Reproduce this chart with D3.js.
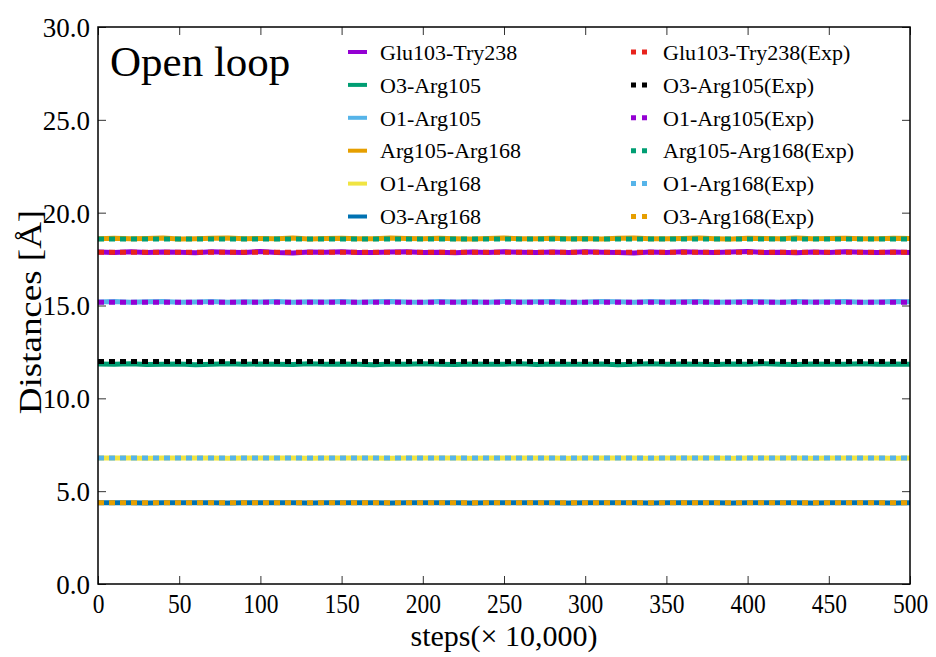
<!DOCTYPE html>
<html>
<head>
<meta charset="utf-8">
<script src="https://cdn.jsdelivr.net/npm/d3@7"></script>
<style>
  html, body { margin: 0; padding: 0; background: #fff; }
  svg { display: block; }
  svg text { font-family: "Liberation Serif", "Times New Roman", serif !important; fill: #000; }
</style>
</head>
<body>
<svg id="chart" width="936" height="657"></svg>
<script>
// ---------- DATA ----------
const steps = [0,10,20,30,40,50,60,70,80,90,100,110,120,130,140,150,160,170,180,190,200,210,220,230,240,250,260,270,280,290,300,310,320,330,340,350,360,370,380,390,400,410,420,430,440,450,460,470,480,490,500];

const seriesNames = ["Glu103-Try238","O3-Arg105","O1-Arg105","Arg105-Arg168","O1-Arg168","O3-Arg168"];
const seriesColors = ["#9400D3","#009E73","#56B4E9","#E69F00","#F0E442","#0072B2"];

const glu103Try238 = [17.88,17.86,17.90,17.85,17.88,17.87,17.84,17.89,17.87,17.86,17.91,17.85,17.83,17.88,17.87,17.89,17.86,17.85,17.88,17.90,17.86,17.87,17.84,17.88,17.86,17.89,17.87,17.85,17.88,17.86,17.90,17.87,17.85,17.83,17.88,17.86,17.89,17.87,17.85,17.88,17.91,17.86,17.87,17.84,17.88,17.86,17.89,17.87,17.85,17.88,17.86];
const o3Arg105 = [11.85,11.83,11.86,11.82,11.84,11.85,11.81,11.84,11.86,11.83,11.85,11.84,11.82,11.86,11.83,11.85,11.84,11.81,11.85,11.83,11.86,11.84,11.82,11.85,11.83,11.84,11.86,11.82,11.85,11.84,11.83,11.85,11.81,11.84,11.86,11.83,11.85,11.84,11.82,11.85,11.83,11.86,11.84,11.82,11.85,11.83,11.84,11.86,11.83,11.85,11.84];
const o1Arg105 = [15.19,15.21,15.18,15.20,15.22,15.18,15.19,15.21,15.17,15.20,15.19,15.22,15.18,15.20,15.19,15.21,15.18,15.20,15.22,15.19,15.18,15.21,15.19,15.20,15.18,15.22,15.19,15.20,15.21,15.18,15.19,15.22,15.20,15.18,15.21,15.19,15.20,15.22,15.18,15.19,15.21,15.20,15.18,15.22,15.19,15.20,15.21,15.18,15.19,15.21,15.20];
const arg105Arg168 = [18.60,18.62,18.59,18.61,18.63,18.58,18.60,18.62,18.64,18.59,18.61,18.60,18.63,18.58,18.61,18.62,18.59,18.60,18.63,18.61,18.59,18.62,18.60,18.58,18.61,18.63,18.60,18.59,18.62,18.60,18.61,18.58,18.62,18.64,18.60,18.59,18.61,18.63,18.60,18.58,18.62,18.61,18.59,18.63,18.60,18.61,18.62,18.59,18.60,18.62,18.61];
const o1Arg168 = [6.78,6.79,6.78,6.77,6.78,6.79,6.78,6.78,6.77,6.79,6.78,6.78,6.79,6.77,6.78,6.78,6.79,6.78,6.77,6.78,6.79,6.78,6.78,6.77,6.79,6.78,6.78,6.79,6.78,6.77,6.78,6.79,6.78,6.78,6.77,6.79,6.78,6.78,6.79,6.77,6.78,6.78,6.79,6.78,6.77,6.78,6.79,6.78,6.78,6.77,6.78];
const o3Arg168 = [4.37,4.38,4.37,4.36,4.37,4.38,4.37,4.37,4.36,4.38,4.37,4.37,4.38,4.36,4.37,4.37,4.38,4.37,4.36,4.37,4.38,4.37,4.37,4.36,4.38,4.37,4.37,4.38,4.37,4.36,4.37,4.38,4.37,4.37,4.36,4.38,4.37,4.37,4.38,4.36,4.37,4.37,4.38,4.37,4.36,4.37,4.38,4.37,4.37,4.36,4.37];

const expNames = ["Glu103-Try238(Exp)","O3-Arg105(Exp)","O1-Arg105(Exp)","Arg105-Arg168(Exp)","O1-Arg168(Exp)","O3-Arg168(Exp)"];
const expColors = ["#E8221C","#000000","#9400D3","#009E73","#56B4E9","#E69F00"];
const expValues = [17.87, 11.98, 15.18, 18.58, 6.78, 4.37];

const xTicks = [0,50,100,150,200,250,300,350,400,450,500];
const yTicks = [0,5,10,15,20,25,30];
const xDomain = [0, 500];
const yDomain = [0, 30];

// ---------- CHART ----------
const FONT = '"Liberation Serif", "Times New Roman", serif';
const svg = d3.select("#chart").attr("font-family", FONT);
const m = {left: 98, top: 27, right: 26, bottom: 73};
const W = 936 - m.left - m.right;
const H = 657 - m.top - m.bottom;
const g = svg.append("g").attr("transform", `translate(${m.left},${m.top})`);

const x = d3.scaleLinear().domain(xDomain).range([0, W]);
const y = d3.scaleLinear().domain(yDomain).range([H, 0]);

const simSeries = [glu103Try238, o3Arg105, o1Arg105, arg105Arg168, o1Arg168, o3Arg168];

const line = d3.line().x(d => x(d[0])).y(d => y(d[1]));

const plot = g.append("g");
simSeries.forEach((vals, i) => {
  plot.append("path")
    .datum(steps.map((s, k) => [s, vals[k]]))
    .attr("d", line)
    .attr("fill", "none")
    .attr("stroke", seriesColors[i])
    .attr("stroke-width", 5)
    .attr("stroke-linejoin", "round");
});
expValues.forEach((v, i) => {
  plot.append("path")
    .datum([[xDomain[0], v], [xDomain[1], v]])
    .attr("d", line)
    .attr("fill", "none")
    .attr("stroke", expColors[i])
    .attr("stroke-width", 5)
    .attr("stroke-dasharray", "6,5");
});

// axes
const fmtY = d3.format(".1f");
const axL = g.append("g").call(d3.axisLeft(y).tickValues(yTicks).tickFormat(fmtY).tickSize(-8).tickPadding(8));
const axR = g.append("g").attr("transform", `translate(${W},0)`).call(d3.axisRight(y).tickValues(yTicks).tickFormat("").tickSize(-8));
const axB = g.append("g").attr("transform", `translate(0,${H})`).call(d3.axisBottom(x).tickValues(xTicks).tickFormat(d3.format("d")).tickSize(-8).tickPadding(9));
const axT = g.append("g").call(d3.axisTop(x).tickValues(xTicks).tickFormat("").tickSize(-8));
[axL, axR, axB, axT].forEach(a => {
  a.attr("font-family", FONT);
  a.select(".domain").remove();
  a.selectAll(".tick line").attr("stroke", "#333").attr("stroke-width", 1);
});
axL.selectAll(".tick text").style("font-size", "27px").attr("dy", "0.35em");
axB.selectAll(".tick text").style("font-size", "28px").attr("transform", "scale(0.84,1)");

g.append("rect").attr("x", 0).attr("y", 0).attr("width", W).attr("height", H)
  .attr("fill", "none").attr("stroke", "#000").attr("stroke-width", 1.5);

// labels
svg.append("text").attr("x", 504).attr("y", 646).attr("text-anchor", "middle")
  .style("font-size", "30px").text("steps(× 10,000)");
svg.append("text").attr("transform", `translate(41,312) rotate(-90) scale(1,0.84)`).attr("text-anchor", "middle")
  .style("font-size", "37px").text("Distances [Å]");

g.append("text").attr("x", 12).attr("y", 49).style("font-size", "43px").text("Open loop");

// legend
const rowY = d3.range(6).map(i => 52 + i * 32.9);
const leg = svg.append("g");
seriesNames.forEach((n, i) => {
  leg.append("line").attr("x1", 348).attr("x2", 367).attr("y1", rowY[i]).attr("y2", rowY[i])
    .attr("stroke", seriesColors[i]).attr("stroke-width", 4);
  leg.append("text").attr("x", 380).attr("y", rowY[i]).attr("dy", "0.35em")
    .style("font-size", "22px").text(n);
});
expNames.forEach((n, i) => {
  leg.append("line").attr("x1", 631).attr("x2", 648).attr("y1", rowY[i]).attr("y2", rowY[i])
    .attr("stroke", expColors[i]).attr("stroke-width", 5).attr("stroke-dasharray", "5,6");
  leg.append("text").attr("x", 663).attr("y", rowY[i]).attr("dy", "0.35em")
    .style("font-size", "22px").text(n);
});
</script>
</body>
</html>
